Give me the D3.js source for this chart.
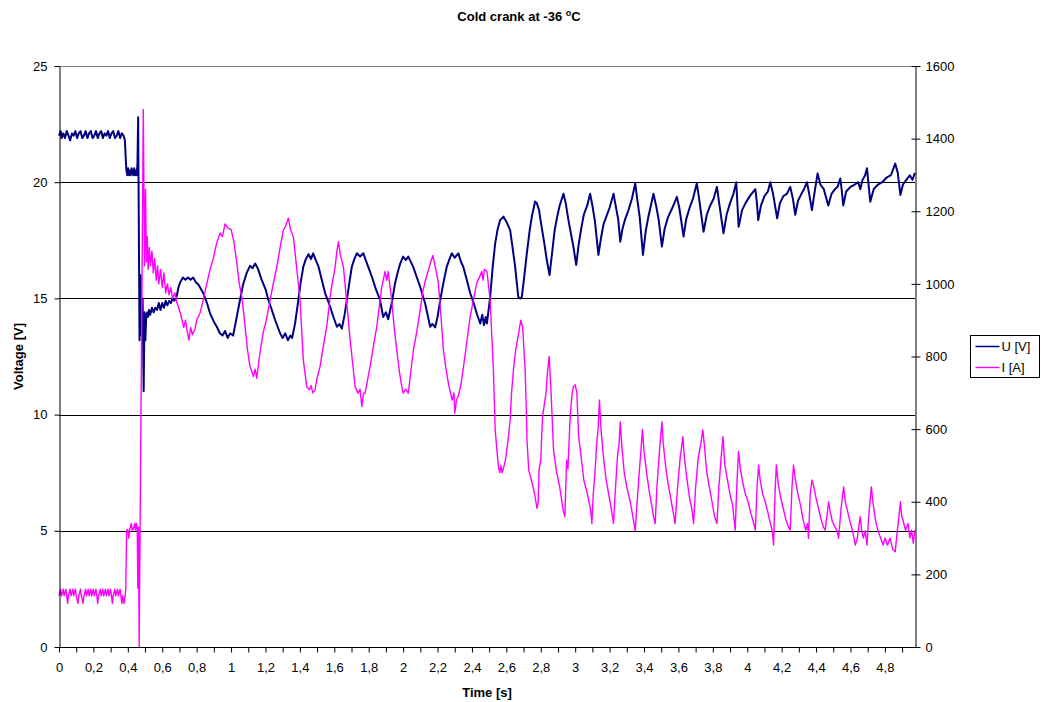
<!DOCTYPE html>
<html><head><meta charset="utf-8">
<script src="https://cdn.jsdelivr.net/npm/d3@7"></script>
<style>body{margin:0;background:#fff} text{font-family:"Liberation Sans",Arial,sans-serif}</style>
</head><body><svg id="c" width="1041" height="702"></svg>
<script>
// ---- data (time [s], value) ----
const voltageSeries = [
[0,22.0],[0.01,22.2],[0.015,21.9],[0.025,22.1],[0.035,21.9],[0.045,22.2],[0.055,22.0],[0.065,21.8],[0.075,22.1],[0.085,22.0],[0.095,22.2],[0.105,21.9],[0.115,22.1],[0.125,22.2],[0.135,21.9],[0.145,22.0],[0.155,22.2],[0.165,21.9],[0.175,22.1],[0.185,22.2],[0.195,21.9],[0.205,22.0],[0.215,22.2],[0.225,21.9],[0.235,22.1],[0.245,22.2],[0.255,21.9],[0.265,22.1],[0.275,22.0],[0.285,22.2],[0.295,21.9],[0.305,22.1],[0.315,22.2],[0.325,21.9],[0.335,22.0],[0.345,22.2],[0.355,21.9],[0.365,22.1],[0.375,22.0],[0.383,21.8],
[0.388,21.0],[0.392,20.5],[0.397,20.3],[0.402,20.6],[0.407,20.3],[0.412,20.5],[0.417,20.3],[0.422,20.6],[0.427,20.4],[0.432,20.3],[0.437,20.6],[0.442,20.3],[0.447,20.5],[0.452,20.3],[0.456,20.8],[0.46,22.8],[0.464,18.0],[0.468,13.2],[0.475,16.0],[0.48,13.4],[0.486,15.0],[0.492,11.0],[0.497,14.4],[0.502,13.2],[0.507,14.3],
[0.513,14.4],[0.518,14.2],[0.523,14.5],[0.53,14.3],[0.54,14.6],[0.55,14.4],[0.56,14.6],[0.57,14.5],[0.58,14.8],[0.59,14.5],[0.60,14.8],[0.61,14.6],[0.62,14.9],[0.63,14.7],[0.64,14.9],[0.65,14.8],[0.66,15.0],[0.67,14.9],[0.684,15.1],[0.695,15.5],[0.705,15.7],[0.72,15.9],[0.735,15.8],[0.75,15.9],[0.765,15.8],[0.78,15.9],[0.795,15.7],[0.81,15.6],[0.825,15.4],[0.84,15.2],[0.86,14.8],[0.878,14.35],[0.90,14.0],[0.917,13.78],[0.935,13.5],[0.95,13.4],[0.965,13.6],[0.98,13.3],[0.995,13.5],[1.012,13.4],[1.033,14.2],[1.052,14.93],[1.07,15.6],[1.091,16.1],[1.11,16.4],[1.125,16.3],[1.14,16.5],[1.155,16.3],[1.178,15.8],[1.20,15.4],[1.217,14.93],[1.237,14.5],[1.256,14.07],[1.285,13.5],[1.30,13.3],[1.315,13.5],[1.33,13.2],[1.345,13.4],[1.355,13.3],[1.372,13.92],[1.391,14.93],[1.405,15.7],[1.42,16.37],[1.435,16.7],[1.45,16.9],[1.465,16.7],[1.477,16.94],[1.495,16.6],[1.508,16.37],[1.527,15.8],[1.547,15.22],[1.576,14.64],[1.595,14.2],[1.615,13.78],[1.63,13.9],[1.644,13.7],[1.66,14.3],[1.673,14.93],[1.688,15.7],[1.702,16.37],[1.717,16.7],[1.731,16.94],[1.75,16.8],[1.769,16.94],[1.785,16.6],[1.80,16.3],[1.82,15.9],[1.837,15.5],[1.866,14.93],[1.884,14.2],[1.90,14.4],[1.913,14.1],[1.934,14.8],[1.953,15.65],[1.968,16.1],[1.983,16.5],[2.0,16.8],[2.015,16.65],[2.03,16.8],[2.058,16.37],[2.08,15.9],[2.099,15.5],[2.128,14.78],[2.145,14.2],[2.157,13.78],[2.17,13.9],[2.186,13.75],[2.20,14.2],[2.215,14.9],[2.235,15.7],[2.254,16.37],[2.27,16.7],[2.283,16.94],[2.30,16.75],[2.321,16.94],[2.335,16.6],[2.349,16.37],[2.37,15.8],[2.39,15.22],[2.41,14.8],[2.428,14.35],[2.448,13.92],[2.46,14.3],[2.47,13.85],[2.48,14.2],[2.487,13.92],[2.506,15.07],[2.52,16.3],[2.535,17.37],[2.55,18.0],[2.564,18.37],[2.583,18.52],[2.60,18.3],[2.622,17.94],[2.636,17.2],[2.651,16.37],[2.669,15.07],[2.68,15.0],[2.69,15.07],[2.705,16.0],[2.719,16.94],[2.735,17.9],[2.748,18.52],[2.767,19.17],[2.777,19.1],[2.79,18.8],[2.80,18.3],[2.82,17.4],[2.835,16.65],[2.851,16.0],[2.865,16.9],[2.88,17.9],[2.895,18.5],[2.91,19.0],[2.932,19.5],[2.945,19.1],[2.96,18.4],[2.975,17.8],[2.99,17.2],[3.006,16.44],[3.02,17.3],[3.035,18.0],[3.05,18.6],[3.07,19.0],[3.087,19.5],[3.10,19.0],[3.115,18.3],[3.135,16.87],[3.15,17.6],[3.165,18.2],[3.18,18.5],[3.20,18.9],[3.223,19.5],[3.235,19.0],[3.25,18.4],[3.262,17.44],[3.275,18.0],[3.29,18.4],[3.31,18.8],[3.33,19.3],[3.349,19.95],[3.36,19.3],[3.375,18.5],[3.394,16.87],[3.41,17.9],[3.425,18.5],[3.44,19.0],[3.455,19.5],[3.47,19.0],[3.485,18.4],[3.504,17.23],[3.52,18.0],[3.54,18.5],[3.565,18.9],[3.591,19.37],[3.605,18.9],[3.63,17.66],[3.645,18.4],[3.665,18.9],[3.685,19.3],[3.707,19.95],[3.72,19.3],[3.746,17.87],[3.765,18.6],[3.785,19.0],[3.805,19.3],[3.824,19.8],[3.835,19.2],[3.862,17.8],[3.88,18.6],[3.90,19.1],[3.92,19.5],[3.936,20.0],[3.95,18.08],[3.97,18.8],[3.99,19.1],[4.015,19.4],[4.047,19.7],[4.055,19.2],[4.064,18.37],[4.08,19.0],[4.10,19.4],[4.12,19.6],[4.134,20.0],[4.15,19.5],[4.174,18.45],[4.19,19.1],[4.21,19.4],[4.23,19.5],[4.25,19.8],[4.265,19.3],[4.279,18.6],[4.295,19.2],[4.315,19.5],[4.33,19.7],[4.347,20.0],[4.36,19.5],[4.376,18.8],[4.39,19.5],[4.409,20.38],[4.425,19.9],[4.445,19.7],[4.471,19.0],[4.49,19.5],[4.51,19.7],[4.525,19.8],[4.541,20.16],[4.55,19.6],[4.558,19.0],[4.575,19.6],[4.60,19.8],[4.625,19.9],[4.645,20.0],[4.657,19.7],[4.67,20.1],[4.685,20.3],[4.696,20.6],[4.705,19.9],[4.715,19.16],[4.735,19.7],[4.76,19.9],[4.785,20.0],[4.81,20.2],[4.835,20.3],[4.86,20.8],[4.875,20.4],[4.89,19.45],[4.905,19.9],[4.925,20.1],[4.945,20.3],[4.96,20.1],[4.975,20.4]
];
const currentSeries = [
[0,141],[0.01,159],[0.015,141],[0.025,159],[0.03,141],[0.04,159],[0.045,141],[0.05,120],[0.055,141],[0.065,159],[0.07,141],[0.08,159],[0.085,141],[0.095,159],[0.10,141],[0.11,120],[0.115,141],[0.125,159],[0.13,141],[0.14,120],[0.145,141],[0.155,159],[0.16,141],[0.17,159],[0.175,141],[0.185,159],[0.19,141],[0.20,159],[0.205,141],[0.215,159],[0.22,141],[0.225,120],[0.23,141],[0.24,159],[0.245,141],[0.255,159],[0.26,141],[0.27,159],[0.275,141],[0.285,159],[0.29,141],[0.30,159],[0.305,141],[0.31,120],[0.315,141],[0.325,159],[0.33,141],[0.34,159],[0.345,141],[0.355,159],[0.36,141],[0.365,120],[0.37,141],[0.378,120],[0.384,141],[0.388,159],
[0.393,322],[0.40,322],[0.405,300],[0.41,322],[0.42,340],[0.425,322],[0.43,322],[0.44,340],[0.445,322],[0.45,340],[0.455,322],[0.458,162],[0.462,330],[0.466,0],[0.49,1480],
[0.497,1050],[0.503,1260],[0.508,1060],[0.513,1130],[0.518,1040],[0.525,1100],[0.532,1050],[0.54,1090],[0.548,1030],[0.556,1070],[0.565,1010],[0.573,1050],[0.58,1000],[0.59,1040],[0.60,990],[0.61,1030],[0.62,975],[0.63,1000],[0.64,970],[0.65,990],[0.66,960],[0.674,975],[0.684,950],[0.695,935],[0.705,920],[0.715,900],[0.725,880],[0.735,900],[0.745,870],[0.755,845],[0.765,880],[0.775,860],[0.79,875],[0.80,900],[0.82,920],[0.84,960],[0.859,1000],[0.878,1040],[0.897,1070],[0.915,1110],[0.936,1140],[0.95,1130],[0.965,1165],[0.984,1153],[1.0,1150],[1.015,1120],[1.03,1070],[1.048,1000],[1.064,960],[1.08,890],[1.095,820],[1.11,772],[1.12,760],[1.13,745],[1.14,765],[1.149,740],[1.165,800],[1.186,865],[1.205,900],[1.227,955],[1.245,1000],[1.266,1047],[1.285,1100],[1.304,1148],[1.318,1160],[1.333,1181],[1.345,1150],[1.362,1130],[1.38,1050],[1.401,955],[1.42,790],[1.44,717],[1.455,708],[1.465,720],[1.475,700],[1.488,708],[1.50,740],[1.517,772],[1.537,830],[1.556,882],[1.58,980],[1.605,1047],[1.615,1090],[1.624,1116],[1.635,1080],[1.653,1047],[1.672,950],[1.692,845],[1.707,780],[1.721,717],[1.738,699],[1.75,710],[1.76,662],[1.77,699],[1.779,699],[1.795,740],[1.808,772],[1.828,830],[1.847,882],[1.862,940],[1.876,992],[1.895,1034],[1.905,1010],[1.913,1034],[1.934,955],[1.948,880],[1.963,818],[1.978,760],[1.992,717],[2.0,699],[2.015,710],[2.03,699],[2.045,760],[2.06,818],[2.08,870],[2.099,928],[2.115,980],[2.13,1010],[2.147,1038],[2.16,1060],[2.173,1078],[2.19,1040],[2.205,1002],[2.22,910],[2.234,818],[2.248,770],[2.263,726],[2.275,700],[2.285,680],[2.295,700],[2.30,644],[2.31,680],[2.32,690],[2.335,720],[2.351,772],[2.37,840],[2.39,910],[2.41,960],[2.428,1002],[2.445,1020],[2.457,1034],[2.465,1010],[2.472,1040],[2.487,1034],[2.506,955],[2.515,860],[2.525,760],[2.535,598],[2.545,543],[2.554,496],[2.562,480],[2.568,500],[2.575,480],
[2.585,496],[2.595,515],[2.60,534],[2.61,570],[2.622,625],[2.63,698],[2.641,763],[2.655,820],[2.67,860],[2.684,900],[2.695,880],[2.709,763],[2.715,671],[2.72,570],[2.73,487],[2.75,451],[2.765,420],[2.778,382],[2.785,400],[2.79,487],[2.80,515],[2.81,634],[2.83,698],[2.84,763],[2.849,800],[2.86,700],[2.874,543],[2.89,487],[2.91,441],[2.93,377],[2.94,359],[2.95,515],[2.958,490],[2.97,625],[2.98,690],[2.99,717],[3.0,722],[3.01,700],[3.02,579],[3.03,543],[3.05,460],[3.07,424],[3.09,377],[3.097,340],[3.105,420],[3.115,480],[3.125,560],[3.133,600],[3.141,680],[3.15,600],[3.165,520],[3.18,460],[3.195,420],[3.21,380],[3.223,340],[3.232,420],[3.245,520],[3.255,560],[3.262,620],[3.27,560],[3.285,480],[3.30,440],[3.32,400],[3.335,360],[3.349,320],[3.36,400],[3.372,480],[3.382,540],[3.391,599],[3.40,540],[3.415,480],[3.43,430],[3.445,390],[3.455,360],[3.465,340],[3.475,440],[3.49,540],[3.504,620],[3.512,560],[3.525,500],[3.54,450],[3.555,410],[3.57,370],[3.581,340],[3.595,440],[3.61,520],[3.626,579],[3.635,520],[3.65,460],[3.665,410],[3.678,380],[3.688,340],[3.70,440],[3.715,520],[3.73,560],[3.742,598],[3.75,560],[3.765,480],[3.78,440],[3.795,400],[3.81,360],[3.824,340],[3.835,440],[3.848,520],[3.859,579],[3.87,500],[3.885,460],[3.90,420],[3.915,390],[3.93,322],[3.94,450],[3.949,538],[3.96,490],[3.975,450],[3.99,420],[4.005,400],[4.02,370],[4.035,345],[4.047,322],[4.057,440],[4.066,501],[4.075,460],[4.09,420],[4.105,400],[4.12,370],[4.135,340],[4.145,320],[4.153,281],[4.162,430],[4.169,501],[4.18,450],[4.195,410],[4.21,380],[4.225,350],[4.24,330],[4.25,322],[4.26,440],[4.269,501],[4.28,460],[4.295,420],[4.31,390],[4.325,350],[4.34,322],[4.35,340],[4.356,299],[4.366,420],[4.376,460],[4.385,445],[4.40,410],[4.415,380],[4.43,350],[4.443,330],[4.453,322],[4.463,360],[4.473,400],[4.483,370],[4.495,345],[4.51,330],[4.522,320],[4.531,299],[4.545,380],[4.56,441],[4.57,400],[4.585,370],[4.60,340],[4.612,320],[4.62,300],[4.628,281],[4.64,300],[4.648,330],[4.657,359],[4.665,320],[4.675,300],[4.685,320],[4.696,281],[4.706,360],[4.721,441],[4.73,400],[4.745,350],[4.76,320],[4.775,300],[4.79,281],[4.80,300],[4.815,281],[4.83,300],[4.845,270],[4.86,262],[4.872,320],[4.882,360],[4.89,400],[4.898,360],[4.91,340],[4.92,322],[4.935,340],[4.945,300],[4.955,322],[4.965,286],[4.975,322]
];
const timeLabels = [0,0.2,0.4,0.6,0.8,1,1.2,1.4,1.6,1.8,2,2.2,2.4,2.6,2.8,3,3.2,3.4,3.6,3.8,4,4.2,4.4,4.6,4.8];
const voltageTicks = [0,5,10,15,20,25];
const currentTicks = [0,200,400,600,800,1000,1200,1400,1600];
const seriesNames = ["U [V]","I [A]"];
const seriesColors = ["#000080","#FF00FF"];

// ---- layout ----
const W=1041,H=702, L=59, R=915, T=66, B=647;
const svg=d3.select("#c");
svg.append("rect").attr("width",W).attr("height",H).attr("fill","#fff");
const x=d3.scaleLinear().domain([0,4.975]).range([L,R]);
const yU=d3.scaleLinear().domain([0,25]).range([B,T]);
const yI=d3.scaleLinear().domain([0,1600]).range([B,T]);
const fs=13;

// gridlines
svg.append("g").selectAll("line").data(voltageTicks.filter(v=>v>0&&v<25)).join("line")
  .attr("x1",L).attr("x2",R).attr("y1",d=>Math.round(yU(d))+0.5).attr("y2",d=>Math.round(yU(d))+0.5)
  .attr("stroke","#000").attr("stroke-width",1);
svg.append("line").attr("x1",L).attr("x2",R).attr("y1",T+0.5).attr("y2",T+0.5).attr("stroke","#808080");

// series
const lineU=d3.line().x(d=>x(d[0])).y(d=>yU(d[1]));
const lineI=d3.line().x(d=>x(d[0])).y(d=>yI(d[1]));
svg.append("path").datum(voltageSeries).attr("d",lineU).attr("fill","none")
  .attr("stroke",seriesColors[0]).attr("stroke-width",2).attr("stroke-linejoin","round");
svg.append("path").datum(currentSeries).attr("d",lineI).attr("fill","none")
  .attr("stroke",seriesColors[1]).attr("stroke-width",1.4).attr("stroke-linejoin","round");

// axes
const minorTicks=d3.range(0,50).map(i=>i/10);
const fmt=d=>String(+d.toFixed(1)).replace(".",",");
const xAxis=svg.append("g").attr("transform",`translate(0,${B+0.5})`)
  .call(d3.axisBottom(x).tickValues(minorTicks).tickSize(5).tickSizeOuter(0).tickPadding(10)
    .tickFormat(d=>timeLabels.some(v=>Math.abs(v-d)<1e-6)?fmt(d):""));
xAxis.select(".domain").attr("d",`M${L},0H${R}`);
const yAxisL=svg.append("g").attr("transform",`translate(${L+0.5},0)`)
  .call(d3.axisLeft(yU).tickValues(voltageTicks).tickSize(5).tickSizeOuter(0).tickPadding(7).tickFormat(d3.format("d")));
const yAxisR=svg.append("g").attr("transform",`translate(${R+0.5},0)`)
  .call(d3.axisRight(yI).tickValues(currentTicks).tickSize(5).tickSizeOuter(0).tickPadding(5).tickFormat(d3.format("d")));
yAxisR.selectAll(".tick line").attr("x1",-4).attr("x2",5);
[xAxis,yAxisL,yAxisR].forEach(g=>{
  g.selectAll("text").attr("font-size",fs).attr("font-family","'Liberation Sans',Arial,sans-serif").attr("fill","#000");
  g.selectAll("line,path").attr("stroke","#000");
});

// titles
const title=svg.append("text").attr("x",519).attr("y",21).attr("text-anchor","middle")
  .attr("font-size",fs).attr("font-weight","bold");
title.append("tspan").text("Cold crank at -36 ");
title.append("tspan").attr("font-size",9).attr("dy",-5).text("o");
title.append("tspan").attr("dy",5).text("C");
svg.append("text").attr("x",487).attr("y",697).attr("text-anchor","middle")
  .attr("font-size",fs).attr("font-weight","bold").text("Time [s]");
svg.append("text").attr("transform",`translate(23,${(T+B)/2}) rotate(-90)`).attr("text-anchor","middle")
  .attr("font-size",fs).attr("font-weight","bold").text("Voltage [V]");

// legend
const lg=svg.append("g").attr("transform","translate(970.5,335.5)");
lg.append("rect").attr("width",69).attr("height",42).attr("fill","#fff").attr("stroke","#000");
seriesNames.forEach((n,i)=>{
  const yy=11+i*21;
  lg.append("line").attr("x1",5).attr("x2",29).attr("y1",yy).attr("y2",yy).attr("stroke",seriesColors[i]).attr("stroke-width",i?1.4:1.5);
  lg.append("text").attr("x",31).attr("y",yy+4.5).attr("font-size",fs).text(n);
});
</script></body></html>
